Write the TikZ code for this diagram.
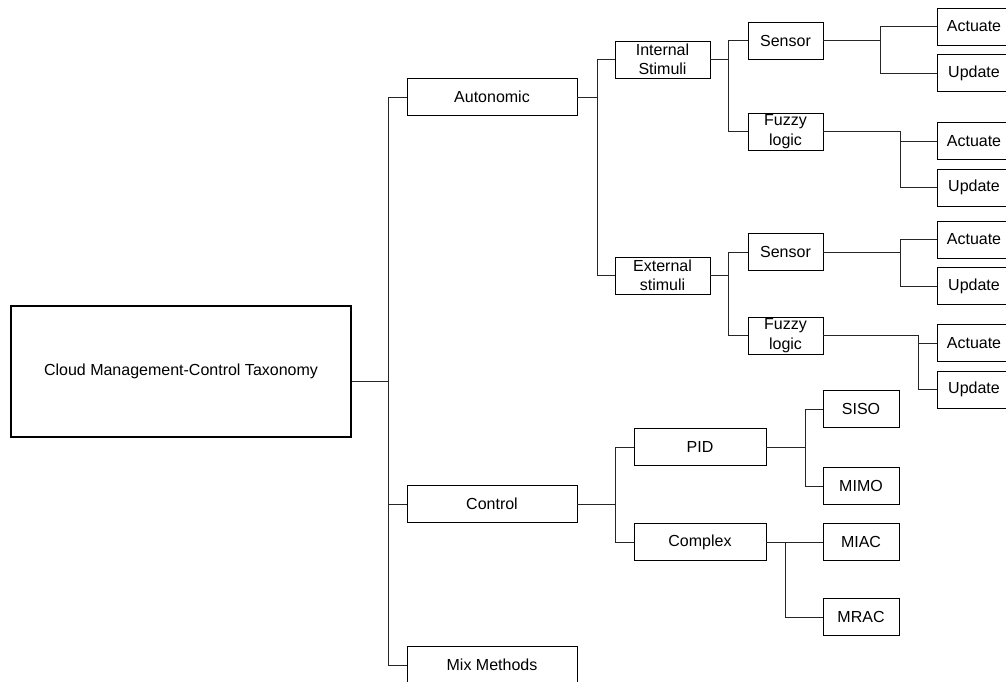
\documentclass[tikz,border=0pt]{standalone}
\usepackage{fontspec}
\setmainfont{Liberation Sans}
\usetikzlibrary{positioning}

\begin{document}
\begin{tikzpicture}[
  x=1pt, y=-1pt,
  node distance=9pt,
  box/.style={rectangle, draw=black, line width=0.8pt, fill=white,
    minimum height=37pt, inner sep=1pt, align=center,
    font=\fontsize{16}{19.5}\selectfont},
  rootbox/.style={box, line width=2.6pt,
    minimum width=340pt, minimum height=131pt},
  leaf/.style={box, minimum width=74pt},
  link/.style={draw=black!85, line width=0.8pt}
]
\useasboundingbox (0,0) rectangle (1006,681);
\clip (0,0) rectangle (1006,681);

% Nodes
\node[rootbox] (root) at (181,371.5) {Cloud Management-Control Taxonomy};

\node[box, minimum width=170pt] (auto) at (492,97) {Autonomic};
\node[box, minimum width=170pt] (ctrl) at (492,504) {Control};
\node[box, minimum width=170pt] (mix)  at (492,665) {Mix Methods};

\node[box, minimum width=95pt] (intst) at (662.5,59.5) {Internal\\Stimuli};
\node[box, minimum width=95pt] (extst) at (662.5,275.5) {External\\stimuli};

\node[box, minimum width=75pt] (sens1) at (785.5,40.5) {Sensor};
\node[box, minimum width=75pt] (fuzz1) at (785.5,131.5) {Fuzzy\\logic};
\node[box, minimum width=75pt] (sens2) at (785.5,252) {Sensor};
\node[box, minimum width=75pt] (fuzz2) at (785.5,335.5) {Fuzzy\\logic};

\node[leaf] (act1) at (974,26.5) {Actuate};
\node[leaf, below=of act1] (upd1) {Update};
\node[leaf] (act2) at (974,141) {Actuate};
\node[leaf, below=of act2] (upd2) {Update};
\node[leaf] (act3) at (974,239.5) {Actuate};
\node[leaf, below=of act3] (upd3) {Update};
\node[leaf] (act4) at (974,343) {Actuate};
\node[leaf, below=of act4] (upd4) {Update};

\node[box, minimum width=132pt] (pid)  at (700,447) {PID};
\node[box, minimum width=132pt] (cplx) at (700,542) {Complex};

\node[box, minimum width=76pt] (siso) at (861,409) {SISO};
\node[box, minimum width=76pt] (mimo) at (861,486) {MIMO};
\node[box, minimum width=76pt] (miac) at (861,542) {MIAC};
\node[box, minimum width=76pt] (mrac) at (861,617) {MRAC};

% Links
\coordinate (jroot) at (388,381);
\draw[link] ([yshift=-9.5pt]root.east) -- (jroot);
\draw[link] (jroot) |- (auto.west);
\draw[link] (jroot) |- (ctrl.west);
\draw[link] (jroot) |- (mix.west);

\draw[link] (auto.east) -- ++(20,0) coordinate (jauto) |- (intst.west);
\draw[link] (jauto) |- (extst.west);

\draw[link] (intst.east) -- ++(18,0) coordinate (jint) |- (sens1.west);
\draw[link] (jint) |- (fuzz1.west);
\draw[link] (extst.east) -- ++(18,0) coordinate (jext) |- (sens2.west);
\draw[link] (jext) |- (fuzz2.west);

\draw[link] (sens1.east) -- ++(57,0) coordinate (js1) |- (act1.west);
\draw[link] (js1) |- (upd1.west);
\draw[link] (fuzz1.east) -- ++(77,0) coordinate (jf1) |- (act2.west);
\draw[link] (jf1) |- (upd2.west);
\draw[link] (sens2.east) -- ++(77,0) coordinate (js2) |- (act3.west);
\draw[link] (js2) |- (upd3.west);
\draw[link] (fuzz2.east) -- ++(95,0) coordinate (jf2) |- (act4.west);
\draw[link] (jf2) |- (upd4.west);

\draw[link] (ctrl.east) -- ++(38,0) coordinate (jctrl) |- (pid.west);
\draw[link] (jctrl) |- (cplx.west);
\draw[link] (pid.east) -- ++(39,0) coordinate (jpid) |- (siso.west);
\draw[link] (jpid) |- (mimo.west);
\draw[link] (cplx.east) -- ++(19,0) coordinate (jcplx) |- (miac.west);
\draw[link] (jcplx) |- (mrac.west);
\end{tikzpicture}
\end{document}
